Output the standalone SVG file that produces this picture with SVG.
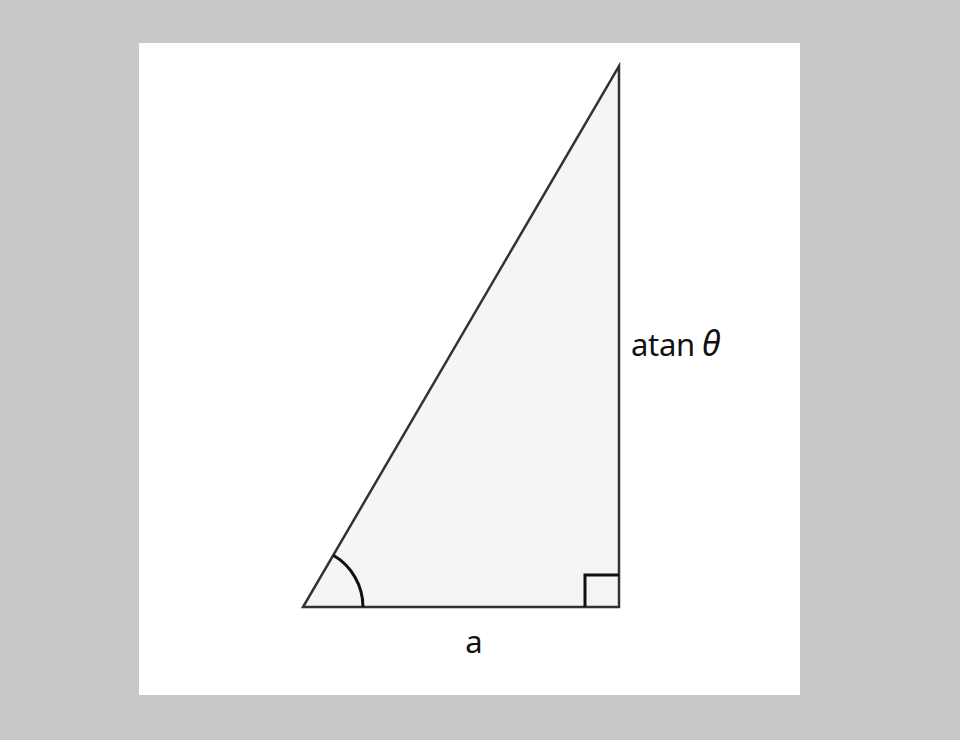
<svg xmlns="http://www.w3.org/2000/svg" width="960" height="740" viewBox="0 0 960 740">
<style>
.lbl{font-family:"Noto Sans","Open Sans","Liberation Sans",sans-serif;font-size:31px;fill:#111}
.edge{fill:#f5f5f5;stroke:#333;stroke-width:2.5;stroke-linejoin:miter}
.mark{fill:none;stroke:#111;stroke-width:3}
</style>
<rect x="0" y="0" width="960" height="740" fill="#c8c8c8"/>
<rect x="139" y="43" width="661" height="652" fill="#ffffff"/>
<g id="triangle">
<polygon points="303,607 619,607 619,66" class="edge"/>
</g>
<g id="marks">
<path class="mark" d="M363,607 A60,60 0 0 0 333.3,555.2"/>
<path class="mark" d="M585,607 L585,575 L619,575"/>
</g>
<g id="labels">
<text class="lbl" x="631" y="356" letter-spacing="-0.3">atan<tspan font-style="italic" font-size="34" dx="7" letter-spacing="0">θ</tspan></text>
<text class="lbl" x="474" y="653" text-anchor="middle">a</text>
</g>
</svg>
